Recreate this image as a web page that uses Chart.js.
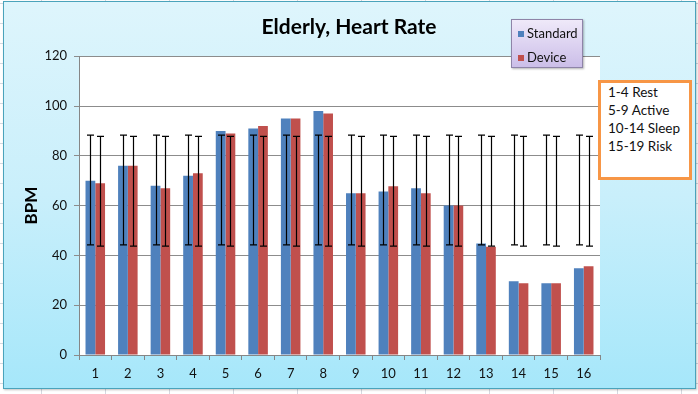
<!DOCTYPE html>
<html>
<head>
<meta charset="utf-8">
<script src="https://cdn.jsdelivr.net/npm/chart.js@4/dist/chart.umd.min.js"></script>
<style>
  html, body { margin: 0; padding: 0; }
  body {
    width: 698px; height: 394px; overflow: hidden; position: relative;
    background-color: #ffffff;
    background-image:
      repeating-linear-gradient(to right, transparent 0px, transparent 41px, #d4d8e0 41px, #d4d8e0 42px, transparent 42px, transparent 64px),
      repeating-linear-gradient(to bottom, transparent 0px, transparent 3px, #d4d8e0 3px, #d4d8e0 4px, transparent 4px, transparent 20px);
    font-family: Lato, "Open Sans", sans-serif;
  }
  #frame {
    position: absolute; left: 3px; top: 1px; width: 691px; height: 386px;
    border: 1.5px solid #4aa3bb;
    background: linear-gradient(to bottom, #def5fc 0%, #c9effb 50%, #a6e7fa 100%);
    box-shadow: 1px 1px 2px rgba(0,0,0,0.25);
  }
  #wrap { position: absolute; left: 0; top: 0; width: 698px; height: 394px; }
  #legend {
    position: absolute; left: 511px; top: 19px; width: 70px; height: 47px;
    border: 1px solid #8e84a8;
    background: linear-gradient(to bottom, #efe9f9 0%, #ddd3f1 50%, #cbbee8 100%);
    box-shadow: 1px 1px 2px rgba(0,0,0,0.3);
    font-size: 13px; color: #111;
  }
  .li { position: absolute; left: 6px; height: 16px; line-height: 16px; white-space: nowrap; }
  .sw { display: inline-block; width: 6px; height: 6px; margin-right: 3px; vertical-align: 1px; }
  #note {
    position: absolute; left: 598px; top: 80px; width: 88px; height: 94px;
    border: 3px solid #f79646; background: #ffffff;
    font-size: 13.5px; line-height: 18px; color: #111;
    padding: 0;
  }
  #note div { padding-left: 7px; white-space: nowrap; }
</style>
</head>
<body>
<div id="frame"></div>
<div id="wrap"><canvas id="c" width="698" height="394"></canvas></div>
<div id="legend"></div>
<div id="note"></div>
<script>
// ---- data ----
const categories = ["1","2","3","4","5","6","7","8","9","10","11","12","13","14","15","16"];
const standardValues = [70, 76, 68, 72, 90, 91, 95, 98, 65, 65.7, 67, 60, 44.8, 29.6, 28.8, 34.8];
const deviceValues   = [69, 76, 67, 73, 89, 92, 95, 97, 65, 67.8, 65, 60, 43.5, 28.8, 28.8, 35.6];
const standardErrLow  = [44.2, 44.2, 44.2, 44.2, 44.2, 44.2, 44.2, 44.2, 44.2, 44.2, 44.2, 44.2, 44.2, 44.2, 44.2, 44.2];
const standardErrHigh = [88.3, 88.3, 88.3, 88.3, 88.3, 88.3, 88.3, 88.3, 88.3, 88.3, 88.3, 88.3, 88.3, 88.3, 88.3, 88.3];
const deviceErrLow    = [43.7, 43.7, 43.7, 43.7, 43.7, 43.7, 43.7, 43.7, 43.7, 43.7, 43.7, 43.7, 43.7, 43.7, 43.7, 43.7];
const deviceErrHigh   = [87.8, 87.8, 87.8, 87.8, 87.8, 87.8, 87.8, 87.8, 87.8, 87.8, 87.8, 87.8, 87.8, 87.8, 87.8, 87.8];
const seriesNames = ["Standard", "Device"];
const yTicks = [0, 20, 40, 60, 80, 100, 120];
const chartTitle = "Elderly, Heart Rate";
const yAxisTitle = "BPM";
const noteLines = ["1-4 Rest", "5-9 Active", "10-14 Sleep", "15-19 Risk"];

const colors = ["#4f81bd", "#c0504d"];
const errLow = [standardErrLow, deviceErrLow];
const errHigh = [standardErrHigh, deviceErrHigh];

// legend + note (HTML text)
const legendEl = document.getElementById('legend');
seriesNames.forEach((n, i) => {
  const d = document.createElement('div');
  d.className = 'li';
  d.style.top = (i === 0 ? 5 : 29) + 'px';
  d.innerHTML = '<span class="sw" style="background:' + colors[i] + '"></span>' + n;
  legendEl.appendChild(d);
});
const noteEl = document.getElementById('note');
noteLines.forEach(t => { const d = document.createElement('div'); d.textContent = t; noteEl.appendChild(d); });

const errorBarPlugin = {
  id: 'errorBars',
  afterDatasetsDraw(chart) {
    const ctx = chart.ctx;
    const y = chart.scales.y;
    ctx.save();
    ctx.strokeStyle = '#000';
    ctx.lineWidth = 1.2;
    chart.data.datasets.forEach((ds, di) => {
      const meta = chart.getDatasetMeta(di);
      meta.data.forEach((el, i) => {
        const x = Math.round(el.x) + 0.5;
        const y1 = y.getPixelForValue(errLow[di][i]);
        const y2 = y.getPixelForValue(errHigh[di][i]);
        ctx.beginPath();
        ctx.moveTo(x, y1); ctx.lineTo(x, y2);
        ctx.moveTo(x - 3.5, y1); ctx.lineTo(x + 3.5, y1);
        ctx.moveTo(x - 3.5, y2); ctx.lineTo(x + 3.5, y2);
        ctx.stroke();
      });
    });
    ctx.restore();
  }
};

const plotBg = {
  id: 'plotBg',
  beforeDraw(chart) {
    const a = chart.chartArea, ctx = chart.ctx;
    ctx.save(); ctx.fillStyle = '#ffffff';
    ctx.fillRect(a.left, a.top, a.right - a.left, a.bottom - a.top);
    ctx.restore();
  }
};

Chart.defaults.font.family = 'Lato, "Open Sans", sans-serif';
Chart.defaults.color = '#111';

new Chart(document.getElementById('c'), {
  type: 'bar',
  data: {
    labels: categories,
    datasets: [
      { label: seriesNames[0], data: standardValues, backgroundColor: colors[0], borderWidth: 0 },
      { label: seriesNames[1], data: deviceValues, backgroundColor: colors[1], borderWidth: 0 }
    ]
  },
  options: {
    responsive: false,
    animation: false,
    devicePixelRatio: 1,
    categoryPercentage: 0.6,
    barPercentage: 1.0,
    layout: { padding: 0 },
    plugins: {
      legend: { display: false },
      tooltip: { enabled: false },
      title: {
        display: true, text: chartTitle, color: '#000',
        font: { size: 21, weight: 'bold' },
        padding: { top: 15, bottom: 16 }
      }
    },
    scales: {
      x: {
        grid: { display: true, drawOnChartArea: false, drawTicks: true, tickLength: 5, color: '#868686', offset: true },
        border: { display: true, color: '#868686' },
        ticks: { font: { size: 13 }, padding: 6, color: '#111' },
        afterFit(s) { s.height = 39; }
      },
      y: {
        min: 0, max: 120,
        afterBuildTicks(s) { s.ticks = yTicks.map(v => ({ value: v })); },
        grid: { color: '#8c8c8c', tickLength: 5 },
        border: { display: true, color: '#868686' },
        ticks: { font: { size: 13 }, padding: 7, color: '#111' },
        title: { display: true, text: yAxisTitle, color: '#000', font: { size: 17, weight: 'bold' }, padding: { top: 21, bottom: 0 } },
        afterFit(s) { s.width = 79; }
      },
      yR: {
        position: 'right', display: true,
        grid: { display: false }, border: { display: false },
        ticks: { display: false },
        afterFit(s) { s.width = 98; }
      }
    }
  },
  plugins: [plotBg, errorBarPlugin]
});
</script>
</body>
</html>
